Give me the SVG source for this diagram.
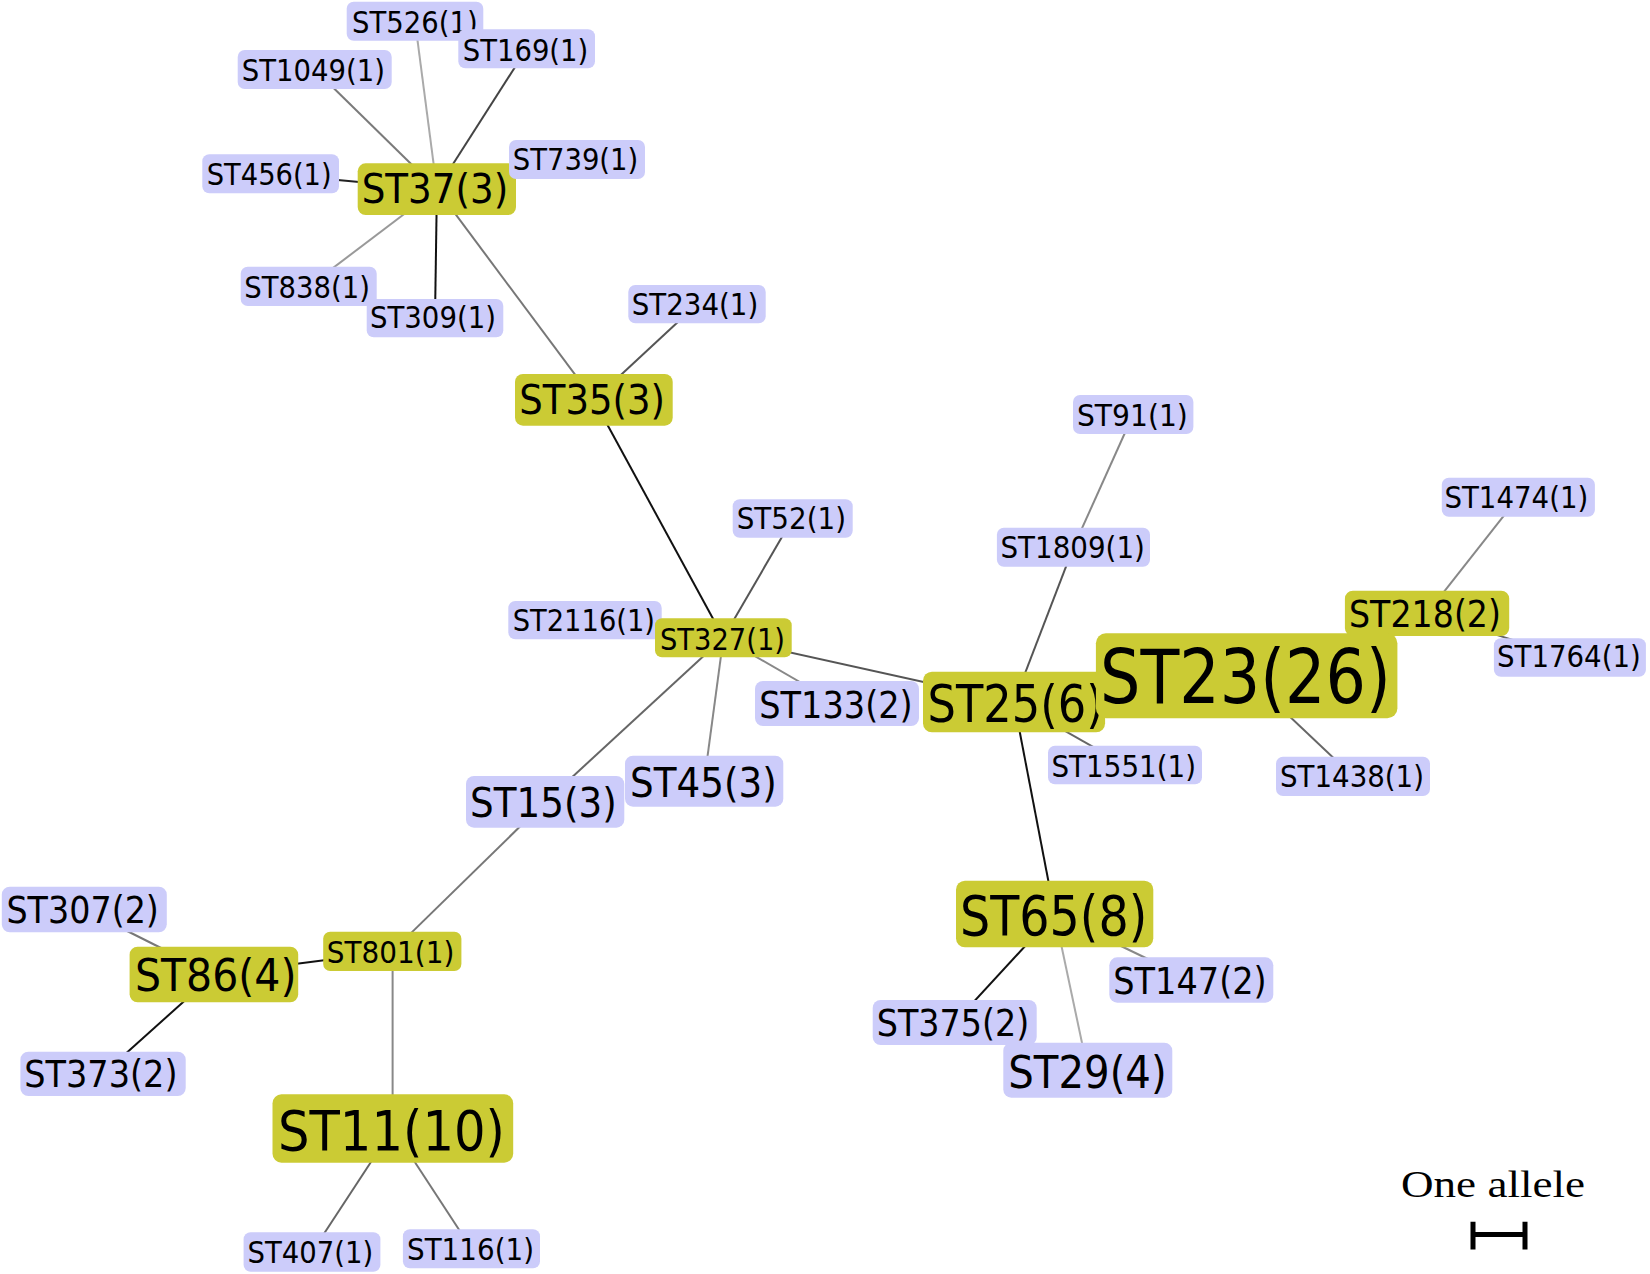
<svg xmlns="http://www.w3.org/2000/svg" width="1650" height="1274" viewBox="0 0 1650 1274">
<style>
.y{fill:#CBCB34}
.b{fill:#CCCCFA}
text{font-family:"DejaVu Sans","Liberation Sans",sans-serif;fill:#000}
.s1{font-size:30px}
.s2{font-size:37px}
.s3{font-size:40px}
.s4{font-size:44px}
.s6{font-size:52px}
.s8{font-size:55px}
.s10{font-size:55px}
.s26{font-size:74px}
#edges line{stroke-width:2;fill:none}
</style>
<rect width="1650" height="1274" fill="#fff"/>
<g id="edges">
<line x1="436.9" y1="189.2" x2="314.7" y2="69.5" stroke="#7a7a7a"/>
<line x1="436.9" y1="189.2" x2="415" y2="21.2" stroke="#aaaaaa"/>
<line x1="436.9" y1="189.2" x2="526.7" y2="48.8" stroke="#444"/>
<line x1="436.9" y1="189.2" x2="270.7" y2="173.8" stroke="#222"/>
<line x1="436.9" y1="189.2" x2="308.7" y2="286.4" stroke="#999"/>
<line x1="436.9" y1="189.2" x2="435" y2="318.2" stroke="#111"/>
<line x1="436.9" y1="189.2" x2="593.9" y2="399.9" stroke="#777"/>
<line x1="593.9" y1="399.9" x2="697" y2="304.2" stroke="#555"/>
<line x1="593.9" y1="399.9" x2="723.4" y2="637.8" stroke="#111"/>
<line x1="723.4" y1="637.8" x2="792.7" y2="518.5" stroke="#555"/>
<line x1="723.4" y1="637.8" x2="545.2" y2="801.9" stroke="#666"/>
<line x1="723.4" y1="637.8" x2="704.2" y2="781.2" stroke="#888"/>
<line x1="723.4" y1="637.8" x2="837" y2="703.5" stroke="#888"/>
<line x1="723.4" y1="637.8" x2="1014" y2="702" stroke="#555"/>
<line x1="545.2" y1="801.9" x2="392.3" y2="951.4" stroke="#777"/>
<line x1="392.3" y1="951.4" x2="213.9" y2="974.5" stroke="#111"/>
<line x1="213.9" y1="974.5" x2="84.3" y2="909.5" stroke="#777"/>
<line x1="213.9" y1="974.5" x2="103" y2="1073.9" stroke="#111"/>
<line x1="392.6" y1="951.4" x2="392.6" y2="1128.5" stroke="#888"/>
<line x1="392.9" y1="1128.5" x2="312" y2="1252" stroke="#666"/>
<line x1="392.9" y1="1128.5" x2="471.5" y2="1248.8" stroke="#777"/>
<line x1="1133.2" y1="414.5" x2="1073.5" y2="547.2" stroke="#888"/>
<line x1="1073.5" y1="547.2" x2="1014" y2="702" stroke="#555"/>
<line x1="1427" y1="613.4" x2="1518.4" y2="497.2" stroke="#888"/>
<line x1="1427" y1="613.4" x2="1569.9" y2="657.5" stroke="#666"/>
<line x1="1246.7" y1="675.8" x2="1353" y2="776.4" stroke="#666"/>
<line x1="1014" y1="702" x2="1125" y2="765" stroke="#666"/>
<line x1="1014" y1="702" x2="1054.7" y2="914" stroke="#111"/>
<line x1="1054.7" y1="914" x2="954.7" y2="1022.5" stroke="#111"/>
<line x1="1054.7" y1="914" x2="1087.8" y2="1070.2" stroke="#aaa"/>
<line x1="1054.7" y1="914" x2="1191.3" y2="980" stroke="#888"/>
</g>
<g id="ST526"><rect class="b" x="346.7" y="1.7" width="136.6" height="39" rx="7"/><text class="s1" x="352" y="33" textLength="125.6" lengthAdjust="spacingAndGlyphs">ST526(1)</text></g>
<g id="ST169"><rect class="b" x="458.3" y="29.3" width="136.7" height="39" rx="7"/><text class="s1" x="462.7" y="60.5" textLength="125.6" lengthAdjust="spacingAndGlyphs">ST169(1)</text></g>
<g id="ST1049"><rect class="b" x="237.7" y="50" width="154" height="39" rx="7"/><text class="s1" x="241.7" y="80.5" textLength="143.3" lengthAdjust="spacingAndGlyphs">ST1049(1)</text></g>
<g id="ST456"><rect class="b" x="202.3" y="154.3" width="136.7" height="39" rx="7"/><text class="s1" x="206.7" y="184.5" textLength="125" lengthAdjust="spacingAndGlyphs">ST456(1)</text></g>
<g id="ST37"><rect class="y" x="357.7" y="163.3" width="158.3" height="51.7" rx="8"/><text class="s3" x="361.7" y="203.3" textLength="146.6" lengthAdjust="spacingAndGlyphs">ST37(3)</text></g>
<g id="ST739"><rect class="b" x="509" y="140" width="136" height="39" rx="7"/><text class="s1" x="512.7" y="170" textLength="125.6" lengthAdjust="spacingAndGlyphs">ST739(1)</text></g>
<g id="ST309"><rect class="b" x="366.7" y="299" width="136.6" height="38.3" rx="7"/><text class="s1" x="370" y="328.3" textLength="126" lengthAdjust="spacingAndGlyphs">ST309(1)</text></g>
<g id="ST838"><rect class="b" x="240.7" y="266.7" width="136" height="39.3" rx="7"/><text class="s1" x="244.3" y="297.5" textLength="125.7" lengthAdjust="spacingAndGlyphs">ST838(1)</text></g>
<g id="ST234"><rect class="b" x="628.3" y="285" width="137.4" height="38.3" rx="7"/><text class="s1" x="631.7" y="315" textLength="126.6" lengthAdjust="spacingAndGlyphs">ST234(1)</text></g>
<g id="ST35"><rect class="y" x="515" y="374" width="157.7" height="51.7" rx="8"/><text class="s3" x="519.3" y="414" textLength="145.7" lengthAdjust="spacingAndGlyphs">ST35(3)</text></g>
<g id="ST52"><rect class="b" x="732.7" y="499.3" width="120" height="38.4" rx="7"/><text class="s1" x="736.7" y="529.3" textLength="109.3" lengthAdjust="spacingAndGlyphs">ST52(1)</text></g>
<g id="ST2116"><rect class="b" x="508.3" y="601" width="153.4" height="38.3" rx="7"/><text class="s1" x="512.7" y="630.7" textLength="142.3" lengthAdjust="spacingAndGlyphs">ST2116(1)</text></g>
<g id="ST327"><rect class="y" x="655" y="618.3" width="136.7" height="39" rx="7"/><text class="s1" x="660" y="649.5" textLength="125" lengthAdjust="spacingAndGlyphs">ST327(1)</text></g>
<g id="ST133"><rect class="b" x="755" y="681" width="164" height="45" rx="8"/><text class="s2" x="759.3" y="718.3" textLength="153.4" lengthAdjust="spacingAndGlyphs">ST133(2)</text></g>
<g id="ST45"><rect class="b" x="625" y="755.7" width="158.3" height="51" rx="8"/><text class="s3" x="630" y="796.7" textLength="146.7" lengthAdjust="spacingAndGlyphs">ST45(3)</text></g>
<g id="ST15"><rect class="b" x="466" y="776" width="158.3" height="51.7" rx="8"/><text class="s3" x="470" y="816.7" textLength="146.7" lengthAdjust="spacingAndGlyphs">ST15(3)</text></g>
<g id="ST307"><rect class="b" x="1.8" y="886.7" width="165" height="45.6" rx="8"/><text class="s2" x="6.4" y="923.3" textLength="152.5" lengthAdjust="spacingAndGlyphs">ST307(2)</text></g>
<g id="ST86"><rect class="y" x="129.6" y="946.7" width="168.6" height="55.6" rx="8"/><text class="s4" x="135" y="990.7" textLength="161.4" lengthAdjust="spacingAndGlyphs">ST86(4)</text></g>
<g id="ST801"><rect class="y" x="323.2" y="931.7" width="138.2" height="39.3" rx="7"/><text class="s1" x="326.8" y="963" textLength="127.5" lengthAdjust="spacingAndGlyphs">ST801(1)</text></g>
<g id="ST373"><rect class="b" x="20.4" y="1051.7" width="165.3" height="44.3" rx="8"/><text class="s2" x="24.3" y="1087.3" textLength="153.2" lengthAdjust="spacingAndGlyphs">ST373(2)</text></g>
<g id="ST11"><rect class="y" x="272.5" y="1094.3" width="240.7" height="68.4" rx="9"/><text class="s10" x="278" y="1150" textLength="227" lengthAdjust="spacingAndGlyphs">ST11(10)</text></g>
<g id="ST407"><rect class="b" x="243.6" y="1232.3" width="136.8" height="39.4" rx="7"/><text class="s1" x="247.5" y="1262.5" textLength="125.7" lengthAdjust="spacingAndGlyphs">ST407(1)</text></g>
<g id="ST116"><rect class="b" x="402.9" y="1229.3" width="137.1" height="39" rx="7"/><text class="s1" x="407" y="1259.7" textLength="127" lengthAdjust="spacingAndGlyphs">ST116(1)</text></g>
<g id="ST91"><rect class="b" x="1073" y="395" width="120.4" height="39" rx="7"/><text class="s1" x="1077" y="425.5" textLength="110.8" lengthAdjust="spacingAndGlyphs">ST91(1)</text></g>
<g id="ST1809"><rect class="b" x="996.9" y="527.7" width="153.1" height="39" rx="7"/><text class="s1" x="1000.5" y="558" textLength="144.4" lengthAdjust="spacingAndGlyphs">ST1809(1)</text></g>
<g id="ST1474"><rect class="b" x="1441.8" y="477.7" width="153.1" height="39" rx="7"/><text class="s1" x="1444.4" y="508" textLength="143.9" lengthAdjust="spacingAndGlyphs">ST1474(1)</text></g>
<g id="ST218"><rect class="y" x="1344.9" y="590.7" width="164.3" height="45.3" rx="8"/><text class="s2" x="1349" y="626.7" textLength="152" lengthAdjust="spacingAndGlyphs">ST218(2)</text></g>
<g id="ST1764"><rect class="b" x="1493.9" y="638.3" width="152" height="38.4" rx="7"/><text class="s1" x="1497" y="667.3" textLength="143.8" lengthAdjust="spacingAndGlyphs">ST1764(1)</text></g>
<g id="ST25"><rect class="y" x="923" y="671.7" width="182.1" height="60.6" rx="9"/><text class="s6" x="927.6" y="721.7" textLength="176" lengthAdjust="spacingAndGlyphs">ST25(6)</text></g>
<g id="ST23"><rect class="y" x="1095.9" y="633.3" width="301.5" height="85" rx="10"/><text class="s26" x="1100" y="703.3" textLength="290.8" lengthAdjust="spacingAndGlyphs">ST23(26)</text></g>
<g id="ST1551"><rect class="b" x="1048" y="745.7" width="154" height="38.6" rx="7"/><text class="s1" x="1051.5" y="776.5" textLength="144.5" lengthAdjust="spacingAndGlyphs">ST1551(1)</text></g>
<g id="ST1438"><rect class="b" x="1276" y="756.7" width="154" height="39.3" rx="7"/><text class="s1" x="1280" y="787.3" textLength="144" lengthAdjust="spacingAndGlyphs">ST1438(1)</text></g>
<g id="ST65"><rect class="y" x="956" y="880.7" width="197.3" height="66.6" rx="9"/><text class="s8" x="960" y="935" textLength="187.3" lengthAdjust="spacingAndGlyphs">ST65(8)</text></g>
<g id="ST147"><rect class="b" x="1109.3" y="957.3" width="164" height="45.4" rx="8"/><text class="s2" x="1113.3" y="994" textLength="153.4" lengthAdjust="spacingAndGlyphs">ST147(2)</text></g>
<g id="ST375"><rect class="b" x="872.7" y="1000" width="164" height="45" rx="8"/><text class="s2" x="876.7" y="1036" textLength="152.6" lengthAdjust="spacingAndGlyphs">ST375(2)</text></g>
<g id="ST29"><rect class="b" x="1003.3" y="1042.7" width="169" height="55" rx="8"/><text class="s4" x="1008.3" y="1088.3" textLength="158.4" lengthAdjust="spacingAndGlyphs">ST29(4)</text></g>
<g id="scale">
<text x="1401" y="1197" style="font-family:'Liberation Serif',serif;font-size:38px" textLength="184" lengthAdjust="spacingAndGlyphs">One allele</text>
<path d="M1473 1221.7V1249.5M1525 1221.7V1249.5M1473 1234.5H1525" stroke="#000" stroke-width="5" fill="none"/>
</g>
</svg>
